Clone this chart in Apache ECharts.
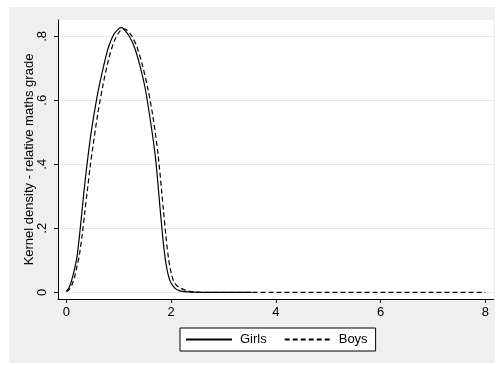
<!DOCTYPE html>
<html>
<head>
<meta charset="utf-8">
<script src="https://cdn.jsdelivr.net/npm/echarts@6/dist/echarts.min.js"></script>
<style>
  html, body { margin: 0; padding: 0; background: #ffffff; }
  #chart { position: absolute; left: 9px; top: 7px; width: 486px; height: 356px; }
</style>
</head>
<body>
<div id="chart"></div>
<script>
// Kernel density estimates of the relative maths grade, by sex
const girlsX = [0, 0.05, 0.10, 0.15, 0.20, 0.25, 0.30, 0.35, 0.40, 0.45, 0.50, 0.60, 0.70, 0.80, 0.90, 1.00, 1.05, 1.10, 1.20, 1.30, 1.40, 1.50, 1.60, 1.70, 1.80, 1.85, 1.90, 1.95, 2.00, 2.07, 2.15, 2.25, 2.40, 2.60, 3.00, 3.54];
const girlsY = [0.004, 0.015, 0.038, 0.07, 0.11, 0.18, 0.26, 0.34, 0.41, 0.475, 0.53, 0.625, 0.70, 0.765, 0.805, 0.824, 0.827, 0.822, 0.80, 0.765, 0.71, 0.64, 0.54, 0.42, 0.24, 0.155, 0.09, 0.05, 0.028, 0.013, 0.005, 0.002, 0.0005, 0, 0, 0];

const boysX = [0, 0.05, 0.10, 0.15, 0.20, 0.25, 0.30, 0.35, 0.40, 0.45, 0.50, 0.60, 0.70, 0.80, 0.90, 1.00, 1.08, 1.15, 1.25, 1.35, 1.45, 1.55, 1.65, 1.75, 1.85, 1.90, 1.95, 2.00, 2.05, 2.12, 2.20, 2.30, 2.45, 2.70, 3.00, 4.00, 5.00, 6.00, 7.00, 8.00];
const boysY = [0.002, 0.008, 0.022, 0.045, 0.08, 0.12, 0.18, 0.25, 0.32, 0.39, 0.45, 0.56, 0.65, 0.725, 0.78, 0.812, 0.823, 0.82, 0.80, 0.765, 0.71, 0.64, 0.55, 0.43, 0.26, 0.175, 0.105, 0.06, 0.034, 0.019, 0.0115, 0.005, 0.001, 0, 0, 0, 0, 0, 0, 0];

const xTicks = [0, 2, 4, 6, 8];
const yTicks = [0, 0.2, 0.4, 0.6, 0.8];
const yTickLabels = ['0', '.2', '.4', '.6', '.8'];

const pairs = (xs, ys) => xs.map((x, i) => [x, ys[i]]);

const chart = echarts.init(document.getElementById('chart'));
const font = 'Liberation Sans, Arial, sans-serif';

chart.setOption({
  backgroundColor: '#efefef',
  animation: false,
  textStyle: { fontFamily: font },
  grid: {
    left: 49, right: 1.5, top: 13, bottom: 64,
    show: true, backgroundColor: '#ffffff', borderWidth: 0
  },
  xAxis: {
    type: 'value',
    min: -0.162, max: 8.157,
    axisLine: { onZero: false, lineStyle: { color: '#000', width: 1 } },
    axisTick: { show: true, length: 4, lineStyle: { color: '#000' }, customValues: xTicks },
    axisLabel: { color: '#000', fontSize: 13, margin: 7, fontFamily: font, customValues: xTicks },
    splitLine: { show: false }
  },
  yAxis: {
    type: 'value',
    min: -0.021, max: 0.851,
    name: 'Kernel density - relative maths grade',
    nameLocation: 'middle',
    nameGap: 22,
    nameMoveOverlap: false,
    nameTextStyle: { color: '#000', fontSize: 13, fontFamily: font },
    axisLine: { show: true, onZero: false, lineStyle: { color: '#000', width: 1 } },
    axisTick: { show: true, length: 4, lineStyle: { color: '#000' }, customValues: yTicks },
    axisLabel: {
      color: '#000', fontSize: 13, margin: 9, rotate: 90, fontFamily: font,
      customValues: yTicks,
      formatter: v => yTickLabels[yTicks.findIndex(t => Math.abs(t - v) < 1e-9)]
    },
    splitLine: { show: true, lineStyle: { color: '#e8e8e8', width: 1 } }
  },
  legend: {
    left: 171, top: 321,
    padding: [5, 8, 5, 5],
    itemWidth: 46, itemHeight: 14, itemGap: 17,
    backgroundColor: '#ffffff',
    borderColor: '#000', borderWidth: 1, borderRadius: 0,
    itemStyle: { color: 'transparent', borderWidth: 0, opacity: 0 },
    textStyle: { color: '#000', fontSize: 13, fontFamily: font, padding: [0, 0, 0, 3] },
    data: ['Girls', 'Boys']
  },
  series: [
    {
      name: 'Girls', type: 'line', data: pairs(girlsX, girlsY),
      smooth: 0.3, symbol: 'none', showSymbol: false,
      lineStyle: { color: '#000', width: 1.2, type: 'solid' },
      itemStyle: { color: '#000' }
    },
    {
      name: 'Boys', type: 'line', data: pairs(boysX, boysY),
      smooth: 0.3, symbol: 'none', showSymbol: false,
      lineStyle: { color: '#000', width: 1.2, type: [5, 3] },
      itemStyle: { color: '#000' }
    }
  ]
});
</script>
</body>
</html>
